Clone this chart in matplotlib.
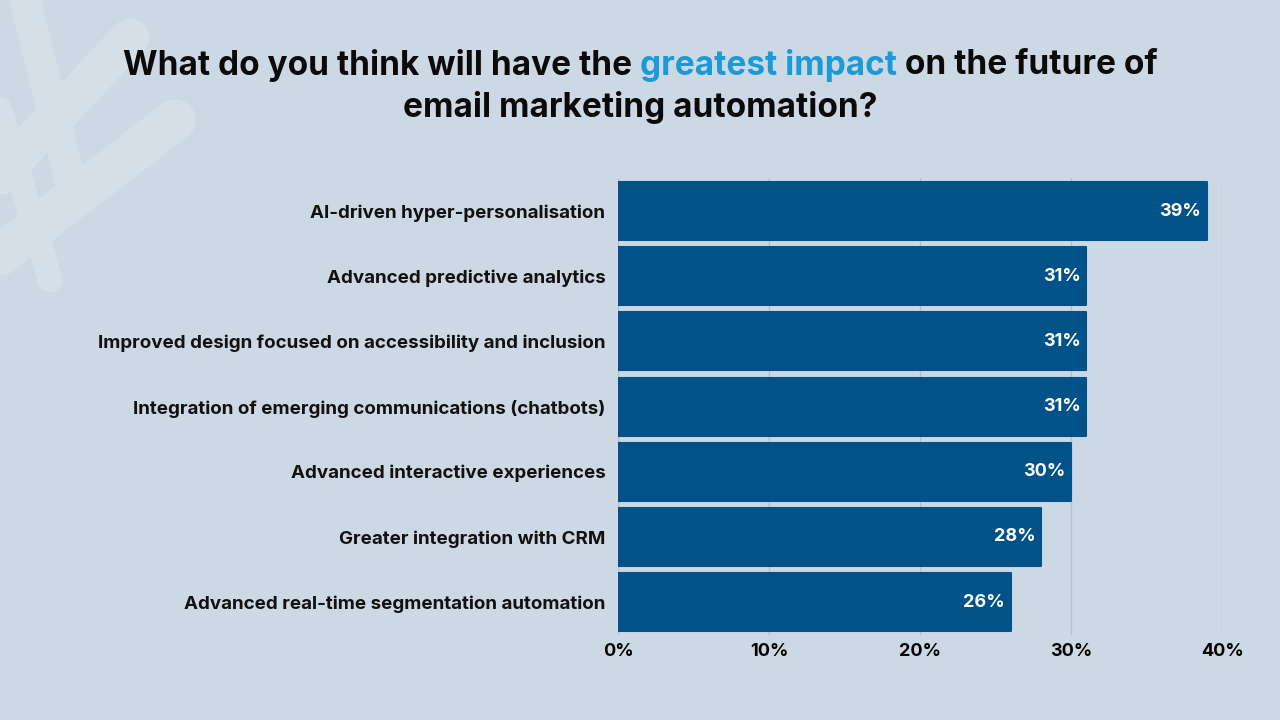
import numpy as np
import matplotlib.pyplot as plt
from matplotlib.lines import Line2D

categories = ["AI-driven hyper-personalisation",
              "Advanced predictive analytics",
              "Improved design focused on accessibility and inclusion",
              "Integration of emerging communications (chatbots)",
              "Advanced interactive experiences",
              "Greater integration with CRM",
              "Advanced real-time segmentation automation"]
values = [39, 31, 31, 31, 30, 28, 26]
x_ticks = [0, 10, 20, 30, 40]
title_parts = ["What do you think will have the ", "greatest impact", " on the future of"]
title_line2 = "email marketing automation?"

bg = "#ccd9e4"
bar_color = "#02528a"
accent = "#1b9ad6"
plt.rcParams['font.family'] = ['Inter', 'DejaVu Sans']

fig = plt.figure(figsize=(12.8, 7.2), dpi=100, facecolor=bg)

# faint plane decoration top-left
deco = "#d4dfe8"
for (x0, y0, x1, y1, lw) in [(0, 255, 175, 120, 30), (0, 175, 130, 38, 28),
                             (25, 0, 75, 200, 22), (0, 110, 50, 280, 18)]:
    fig.add_artist(Line2D([x0 / 1280, x1 / 1280], [1 - y0 / 720, 1 - y1 / 720],
                          color=deco, lw=lw, solid_capstyle='round', zorder=0))

ax = fig.add_axes([618 / 1280, 0.1186, (1222 - 618) / 1280, 0.6336])
ax.set_facecolor('none')
y = np.arange(len(categories))
ax.barh(y, values, height=0.89, color=bar_color, edgecolor=bar_color,
        linewidth=1.5, joinstyle='round', zorder=3)
ax.set_xlim(0, 40)
ax.set_ylim(len(categories) - 0.5, -0.5)
ax.set_xticks(x_ticks)
ax.set_xticklabels([f"{t}%" for t in x_ticks], fontsize=13, fontweight='bold')
ax.set_yticks(y)
ax.set_yticklabels(categories, fontsize=13.5, fontweight='bold', color="#111111")
ax.tick_params(axis='both', length=0)
ax.tick_params(axis='y', pad=9)
ax.tick_params(axis='x', pad=6)
ax.xaxis.grid(True, color="#b3c1cd", lw=1, zorder=0)
for s in ax.spines.values():
    s.set_visible(False)

for yi, v in zip(y, values):
    ax.annotate(f"{v}%", (v, yi), xytext=(-4, 0), textcoords='offset points',
                ha='right', va='center', color='white', fontsize=13, fontweight='bold', zorder=4)

# title with highlighted words
fig.canvas.draw()
r = fig.canvas.get_renderer()
tsize = 24
texts = [fig.text(0, 1 - 65 / 720, p, fontsize=tsize, fontweight='bold',
                  color=(accent if i == 1 else '#0a0a0a'), va='center')
         for i, p in enumerate(title_parts)]
widths = [t.get_window_extent(r).width for t in texts]
x = (1280 - sum(widths)) / 2
for t, w in zip(texts, widths):
    t.set_x(x / 1280)
    x += w
fig.text(640 / 1280, 1 - 107 / 720, title_line2, fontsize=tsize, fontweight='bold',
         color='#0a0a0a', ha='center', va='center')

fig.savefig("out.png", dpi=100, facecolor=bg)
